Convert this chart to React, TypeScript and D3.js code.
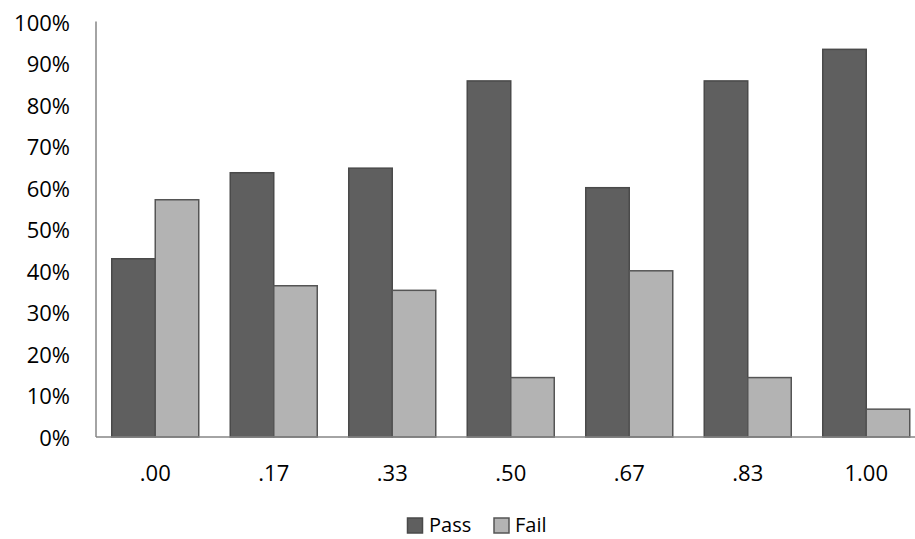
import React from "react";
import * as d3 from "d3";

const categories = [".00", ".17", ".33", ".50", ".67", ".83", "1.00"];
const seriesNames = ["Pass", "Fail"];
const passValues = [42.9, 63.6, 64.7, 85.7, 60.0, 85.7, 93.3];
const failValues = [57.1, 36.4, 35.3, 14.3, 40.0, 14.3, 6.7];
const yTicks = [0, 10, 20, 30, 40, 50, 60, 70, 80, 90, 100];

const fills: Record<string, string> = { Pass: "#5f5f5f", Fail: "#b3b3b3" };
const strokes: Record<string, string> = { Pass: "#4a4a4a", Fail: "#555555" };

const W = 915;
const H = 539;
const FONT = "'Open Sans', Calibri, sans-serif";

export default function App() {
  const left = 96;
  const right = 925.5;
  const top = 21.5;
  const bottom = 437;

  const x0 = d3.scaleBand<string>().domain(categories).range([left, right]).padding(0);
  const x1 = d3
    .scaleBand<string>()
    .domain(seriesNames)
    .range([0, x0.bandwidth()])
    .paddingInner(0)
    .paddingOuter(0.362);
  const y = d3.scaleLinear().domain([0, 100]).range([bottom, top]);

  const rows = categories.map((c, i) => ({ c, Pass: passValues[i], Fail: failValues[i] }));

  return (
    <svg
      width={W}
      height={H}
      style={{ position: "absolute", left: 0, top: 0, background: "#fff" }}
      fontFamily={FONT}
    >
      {/* bars */}
      {rows.map((r) => (
        <g key={r.c} transform={`translate(${x0(r.c)},0)`}>
          {seriesNames.map((s) => {
            const v = (r as any)[s] as number;
            return (
              <rect
                key={s}
                x={x1(s)!}
                y={y(v)}
                width={x1.bandwidth()}
                height={y(0) - y(v)}
                fill={fills[s]}
                stroke={strokes[s]}
                strokeWidth={1.5}
              />
            );
          })}
        </g>
      ))}

      {/* axes */}
      <line x1={left} x2={left} y1={top} y2={bottom} stroke="#868686" strokeWidth={1.5} />
      <line x1={left} x2={W} y1={bottom} y2={bottom} stroke="#868686" strokeWidth={1.5} />

      {/* y tick labels */}
      {yTicks.map((t) => (
        <text
          key={t}
          x={70}
          y={y(t)}
          textAnchor="end"
          dominantBaseline="central"
          fontSize={22}
          fill="#000"
        >
          {`${t}%`}
        </text>
      ))}

      {/* x tick labels */}
      {categories.map((c) => (
        <text
          key={c}
          x={x0(c)! + x0.bandwidth() / 2}
          y={472}
          textAnchor="middle"
          dominantBaseline="central"
          fontSize={22}
          fill="#000"
        >
          {c}
        </text>
      ))}

      {/* legend */}
      <g>
        <rect x={407.5} y={518} width={15} height={15} fill={fills.Pass} stroke={strokes.Pass} strokeWidth={1.5} />
        <text x={429} y={532} fontSize={20} fill="#000">
          Pass
        </text>
        <rect x={494} y={518} width={15} height={15} fill={fills.Fail} stroke={strokes.Fail} strokeWidth={1.5} />
        <text x={515} y={532} fontSize={20} fill="#000">
          Fail
        </text>
      </g>
    </svg>
  );
}
